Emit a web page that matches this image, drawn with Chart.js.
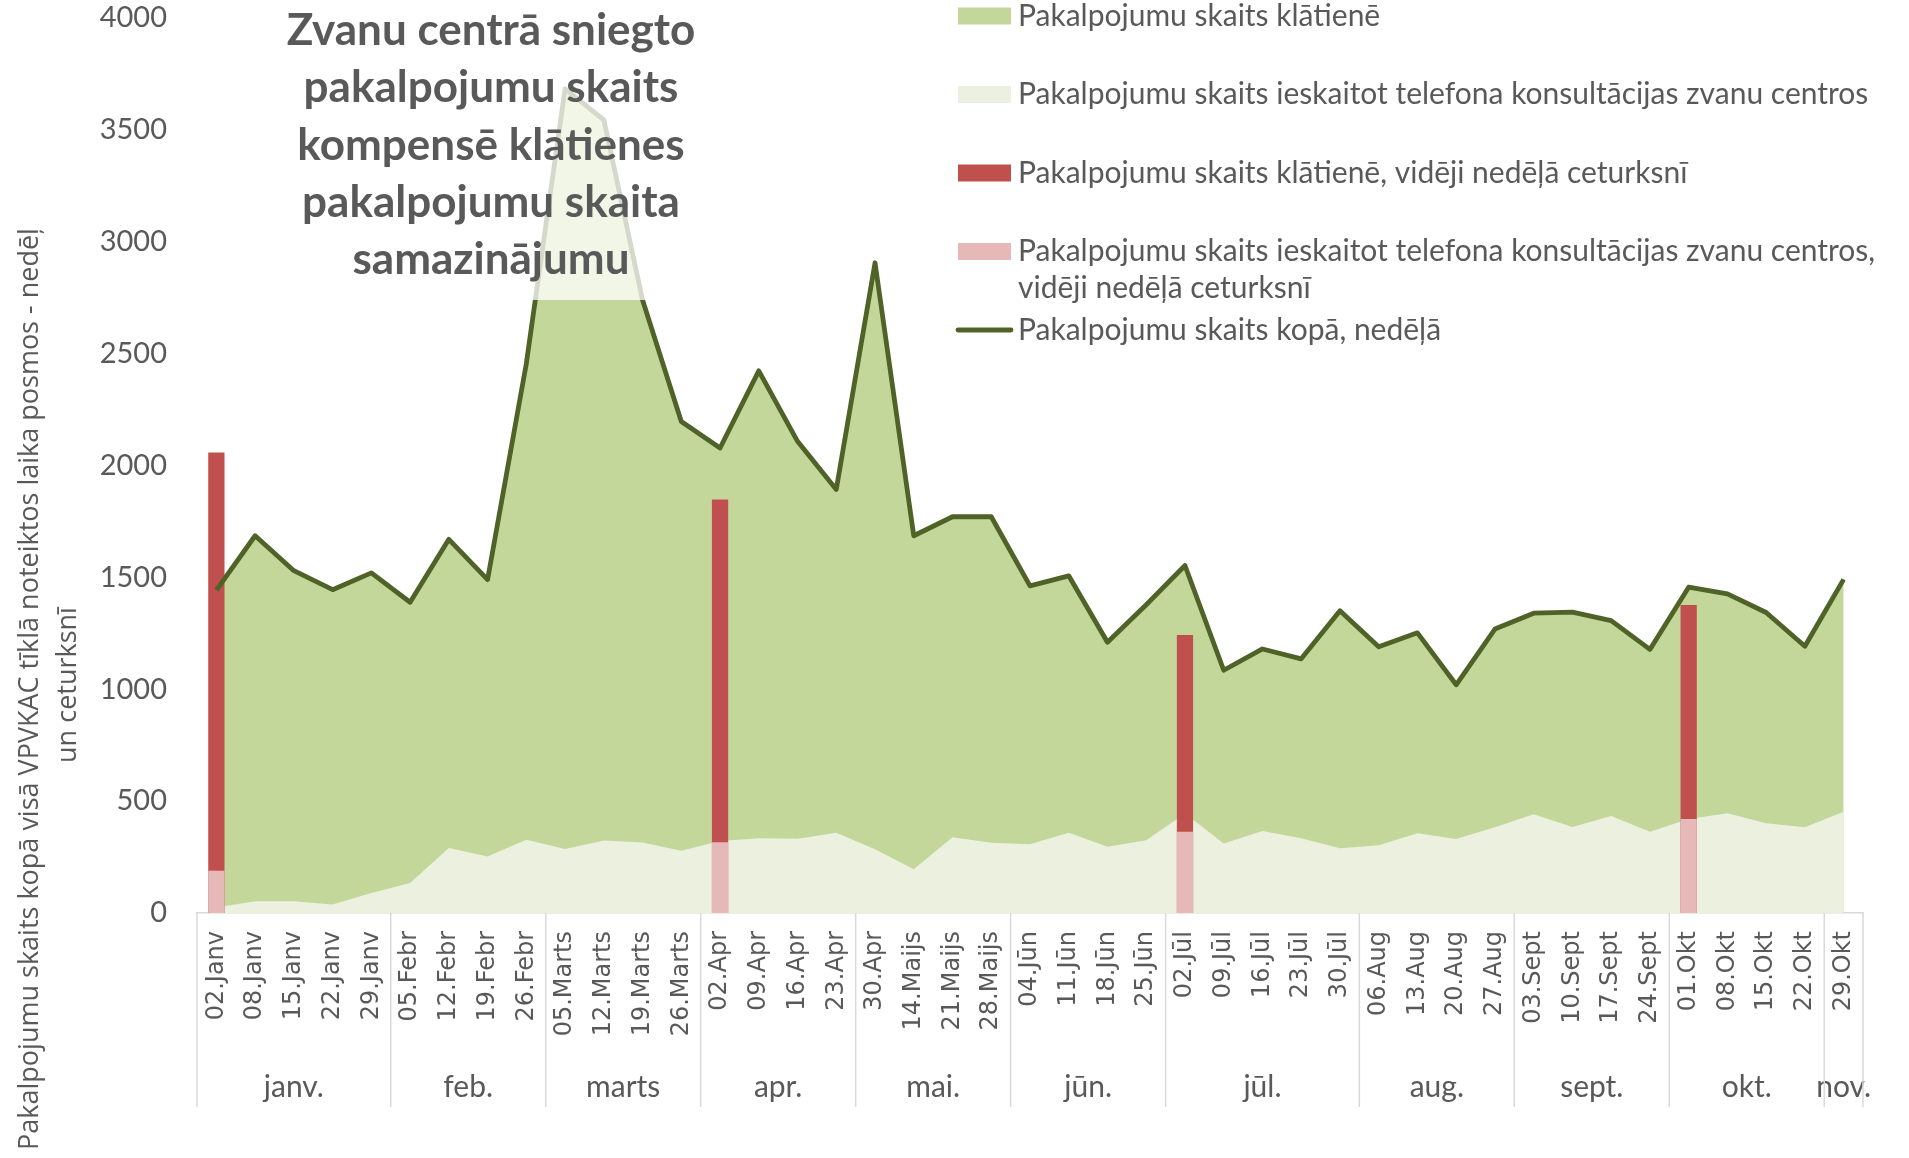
<!DOCTYPE html>
<html lang="lv">
<head>
<meta charset="utf-8">
<title>Pakalpojumu skaits</title>
<script src="https://cdn.jsdelivr.net/npm/chart.js@4/dist/chart.umd.min.js"></script>
<style>
  html, body { margin: 0; padding: 0; background: #fff; }
  #wrap { width: 1909px; height: 1158px; }
</style>
</head>
<body>
<div id="wrap"><canvas id="myChart" width="1909" height="1158"></canvas></div>
<script>
const nedelas = ['02.Janv', '08.Janv', '15.Janv', '22.Janv', '29.Janv',
  '05.Febr', '12.Febr', '19.Febr', '26.Febr',
  '05.Marts', '12.Marts', '19.Marts', '26.Marts',
  '02.Apr', '09.Apr', '16.Apr', '23.Apr',
  '30.Apr', '14.Maijs', '21.Maijs', '28.Maijs',
  '04.Jūn', '11.Jūn', '18.Jūn', '25.Jūn',
  '02.Jūl', '09.Jūl', '16.Jūl', '23.Jūl', '30.Jūl',
  '06.Aug', '13.Aug', '20.Aug', '27.Aug',
  '03.Sept', '10.Sept', '17.Sept', '24.Sept',
  '01.Okt', '08.Okt', '15.Okt', '22.Okt',
  '29.Okt'];
const menesi = ['janv.', 'feb.', 'marts', 'apr.', 'mai.', 'jūn.', 'jūl.', 'aug.', 'sept.', 'okt.', 'nov.'];
const nedeluSkaits = [5, 4, 4, 4, 4, 4, 5, 4, 4, 4, 1];

// kopā nedēļā
const kopaNedela = [1443, 1686, 1530, 1445, 1520, 1389, 1670, 1490, 2455,
  3683, 3545, 2740, 2197, 2078, 2423, 2108, 1893, 2906, 1686, 1771, 1771,
  1462, 1507, 1210, 1378, 1553, 1085, 1180, 1136, 1351, 1190, 1252, 1020,
  1269, 1340, 1345, 1307, 1178, 1456, 1426, 1343, 1192, 1491];
// telefona konsultācijas zvanu centros
const zvanuCentros = [25, 52, 52, 38, 89, 134, 290, 253, 327, 286, 324, 315,
  278, 322, 334, 332, 359, 285, 195, 338, 314, 307, 359, 296, 325, 445, 311,
  366, 334, 289, 303, 356, 331, 383, 441, 384, 433, 363, 420, 446, 401, 383, 453];

// vidēji nedēļā ceturksnī
const ceturksnuSakumi = ['02.Janv', '02.Apr', '02.Jūl', '01.Okt'];
const klatieneVid = [2058, 1848, 1242, 1376];
const zvanuVid = [189, 316, 363, 420];

const virsraksts = ['Zvanu centrā sniegto', 'pakalpojumu skaits', 'kompensē klātienes',
  'pakalpojumu skaita', 'samazinājumu'];
const asuNosaukums = ['Pakalpojumu skaits kopā visā VPVKAC tīklā noteiktos laika posmos - nedēļ',
  'un ceturksnī'];

const pelēks = '#595959';

function ceturksnim(vertibas) {
  return nedelas.map(n => {
    const i = ceturksnuSakumi.indexOf(n);
    return i < 0 ? null : vertibas[i];
  });
}

function aplauzt(ctx, teksts, platums) {
  const vardi = teksts.split(' ');
  const rindas = [];
  let r = '';
  vardi.forEach(v => {
    const t = r ? r + ' ' + v : v;
    if (r && ctx.measureText(t).width > platums) { rindas.push(r); r = v; } else r = t;
  });
  rindas.push(r);
  return rindas;
}

// mēnešu grupas zem ass
const menesuAss = {
  id: 'menesuAss',
  afterDraw(chart) {
    const {ctx, chartArea, scales: {x}} = chart;
    const solis = x.getPixelForValue(1) - x.getPixelForValue(0);
    const robeza = k => x.getPixelForValue(k) - solis / 2;
    const apaksa = chartArea.bottom + 194;
    ctx.save();
    ctx.strokeStyle = '#D9D9D9';
    ctx.lineWidth = 1.5;
    ctx.font = '30px Lato';
    ctx.fillStyle = pelēks;
    ctx.textAlign = 'center';
    ctx.textBaseline = 'middle';
    ctx.beginPath();
    ctx.moveTo(robeza(0), chartArea.bottom);
    ctx.lineTo(robeza(0), apaksa);
    let sak = 0;
    menesi.forEach((m, i) => {
      const beigas = sak + nedeluSkaits[i];
      const x0 = robeza(sak), x1 = robeza(beigas);
      ctx.moveTo(x1, chartArea.bottom);
      ctx.lineTo(x1, apaksa);
      ctx.fillText(m, (x0 + x1) / 2, chartArea.bottom + 174);
      sak = beigas;
    });
    ctx.stroke();
    ctx.restore();
  }
};

// virsraksta lauks ar baltu fonu virs laukumiem
const virsrakstaLauks = {
  id: 'virsrakstaLauks',
  afterDatasetsDraw(chart) {
    const {ctx} = chart;
    ctx.save();
    ctx.fillStyle = 'rgba(255,255,255,0.76)';
    ctx.fillRect(270, 0, 442, 300);
    ctx.fillStyle = pelēks;
    ctx.font = 'bold 44px Lato';
    ctx.textAlign = 'center';
    ctx.textBaseline = 'middle';
    virsraksts.forEach((r, i) => ctx.fillText(r, 491, 31 + i * 57.2));
    ctx.restore();
  }
};

const legendaUnAss = {
  id: 'legendaUnAss',
  afterDraw(chart) {
    const {ctx} = chart;
    ctx.save();
    ctx.font = '30px Lato';
    ctx.textBaseline = 'middle';
    ctx.textAlign = 'left';
    let y = 16;
    chart.data.datasets.forEach(ds => {
      if (ds.type === 'line' && !ds.fill) {
        ctx.strokeStyle = ds.borderColor;
        ctx.lineWidth = ds.borderWidth;
        ctx.lineCap = 'round';
        ctx.beginPath();
        ctx.moveTo(958, y);
        ctx.lineTo(1011, y);
        ctx.stroke();
      } else {
        ctx.fillStyle = ds.backgroundColor;
        ctx.fillRect(958, y - 8.5, 53, 17);
      }
      ctx.fillStyle = pelēks;
      aplauzt(ctx, ds.label, 885).forEach((r, j) => ctx.fillText(r, 1018, y + j * 37));
      y += 78.5;
    });

    // y ass nosaukums
    ctx.font = '27px "Open Sans"';
    ctx.textAlign = 'center';
    ctx.fillStyle = pelēks;
    ctx.translate(0, 689);
    ctx.rotate(-Math.PI / 2);
    ctx.fillText(asuNosaukums[0], 0, 30);
    ctx.fillText(asuNosaukums[1], 4, 68);
    ctx.restore();
  }
};

const ctx = document.getElementById('myChart').getContext('2d');

const myChart = new Chart(ctx, {
  type: 'bar',
  data: {
    labels: nedelas,
    datasets: [{
      type: 'line',
      label: 'Pakalpojumu skaits klātienē',
      data: kopaNedela,
      backgroundColor: '#C4D79B',
      borderWidth: 0,
      pointRadius: 0,
      fill: 'origin',
      tension: 0,
      order: 4
    }, {
      type: 'line',
      label: 'Pakalpojumu skaits ieskaitot telefona konsultācijas zvanu centros',
      data: zvanuCentros,
      backgroundColor: '#EBF1DE',
      borderWidth: 0,
      pointRadius: 0,
      fill: 'origin',
      tension: 0,
      order: 3
    }, {
      label: 'Pakalpojumu skaits klātienē, vidēji nedēļā ceturksnī',
      data: ceturksnim(klatieneVid),
      backgroundColor: '#C0504D',
      grouped: false,
      categoryPercentage: 1,
      barPercentage: 0.42,
      order: 2
    }, {
      label: 'Pakalpojumu skaits ieskaitot telefona konsultācijas zvanu centros, vidēji nedēļā ceturksnī',
      data: ceturksnim(zvanuVid),
      backgroundColor: '#E6B9B8',
      grouped: false,
      categoryPercentage: 1,
      barPercentage: 0.42,
      order: 1
    }, {
      type: 'line',
      label: 'Pakalpojumu skaits kopā, nedēļā',
      data: kopaNedela,
      borderColor: '#4F6228',
      borderWidth: 4.8,
      borderJoinStyle: 'round',
      pointRadius: 0,
      fill: false,
      tension: 0,
      order: 0
    }]
  },
  options: {
    responsive: false,
    animation: false,
    layout: { padding: { left: 0, right: 46, top: 18, bottom: 0 } },
    plugins: {
      legend: { display: false },
      tooltip: { enabled: false }
    },
    scales: {
      x: {
        offset: true,
        grid: { display: false, drawTicks: false },
        border: { display: true, color: '#D9D9D9', width: 1.5 },
        ticks: {
          autoSkip: false,
          minRotation: 90,
          maxRotation: 90,
          padding: 18,
          color: pelēks,
          font: { family: 'DejaVu Sans', size: 24 }
        },
        afterFit: s => { s.height = 245; }
      },
      y: {
        min: 0,
        max: 4000,
        grid: { display: false, drawTicks: false },
        border: { display: false },
        ticks: {
          stepSize: 500,
          padding: 30,
          color: pelēks,
          font: { family: 'Lato', size: 29 },
          callback: v => String(v)
        },
        afterFit: s => {
          s.width = 197;
          s.paddingTop = 15;
          s.paddingBottom = 15;
        }
      }
    }
  },
  plugins: [menesuAss, virsrakstaLauks, legendaUnAss]
});
</script>
</body>
</html>
